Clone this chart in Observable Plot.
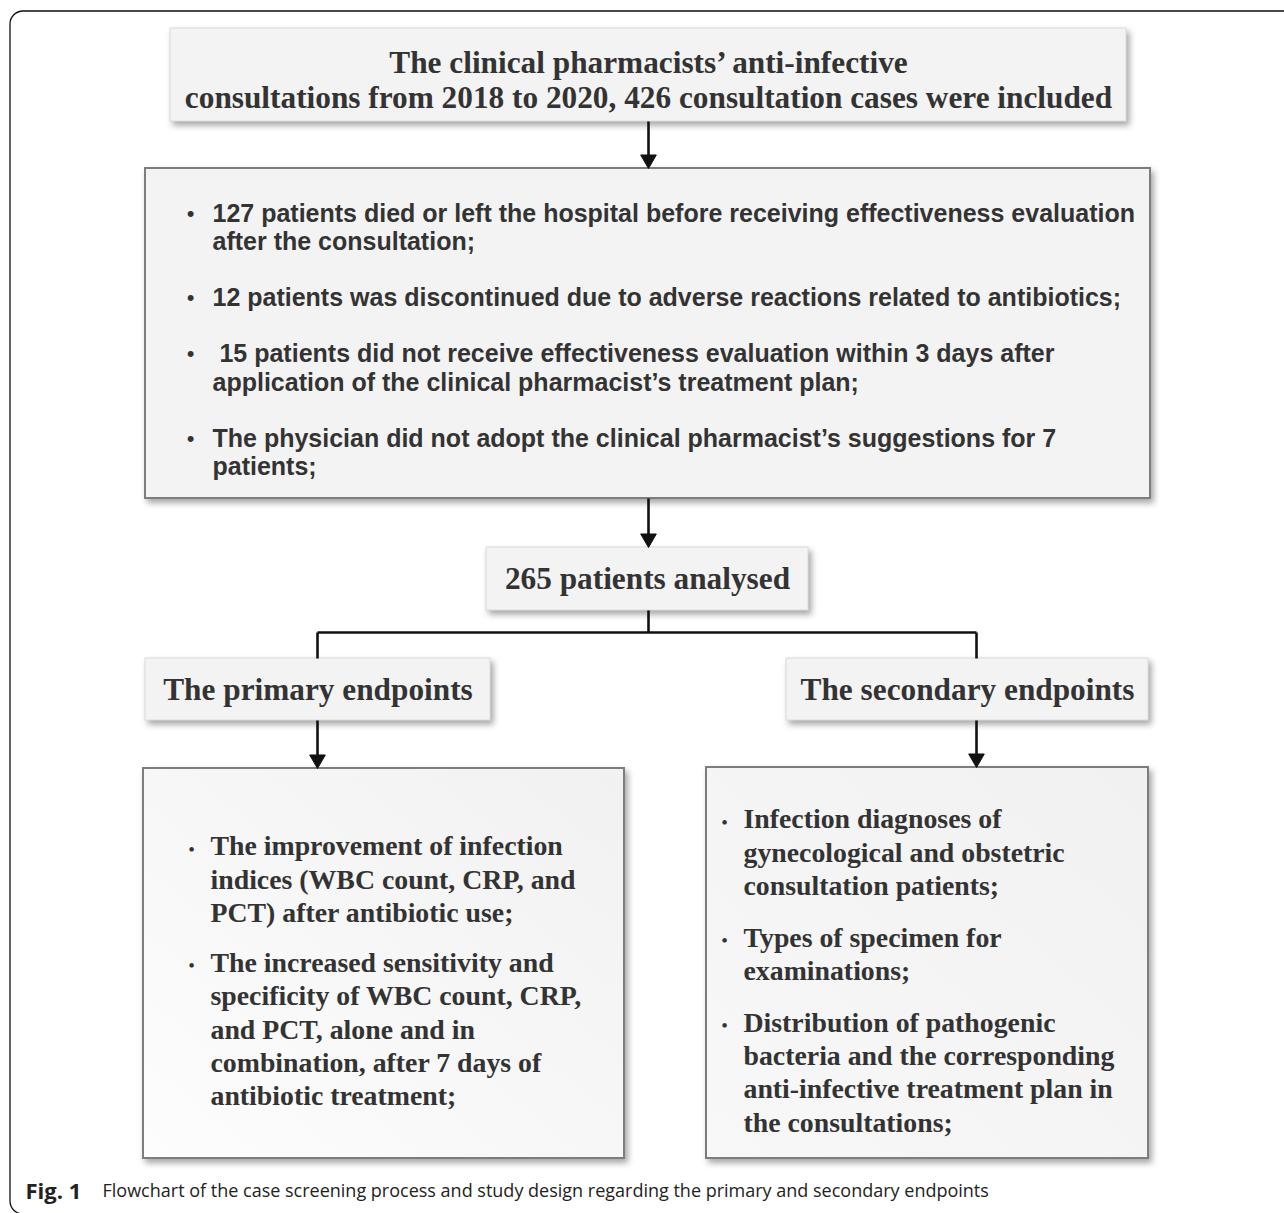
<!DOCTYPE html>
<html>
<head>
<meta charset="utf-8">
<script src="https://cdn.jsdelivr.net/npm/d3@7"></script>
<script src="https://cdn.jsdelivr.net/npm/@observablehq/plot@0.6"></script>
<style>
  html, body { margin: 0; padding: 0; background: #fff; }
  #chart svg { display: block; }
  #chart text { white-space: pre; }
</style>
</head>
<body>
<div id="chart"></div>
<script>
// ---------- content (data) ----------
const topTitle = [
  "The clinical pharmacists\u2019 anti-infective",
  "consultations from 2018 to 2020, 426 consultation cases were included"
];
const exclusions = [
  ["127 patients died or left the hospital before receiving effectiveness evaluation", "after the consultation;"],
  ["12 patients was discontinued due to adverse reactions related to antibiotics;"],
  [" 15 patients did not receive effectiveness evaluation within 3 days after", "application of the clinical pharmacist\u2019s treatment plan;"],
  ["The physician did not adopt the clinical pharmacist\u2019s suggestions for 7", "patients;"]
];
const analysedLabel = "265 patients analysed";
const endpointLabels = ["The primary endpoints", "The secondary endpoints"];
const primaryItems = [
  ["The improvement of infection", "indices (WBC count, CRP, and", "PCT) after antibiotic use;"],
  ["The increased sensitivity and", "specificity of WBC count, CRP,", "and PCT, alone and in", "combination, after 7 days of", "antibiotic treatment;"]
];
const secondaryItems = [
  ["Infection diagnoses of", "gynecological and obstetric", "consultation patients;"],
  ["Types of specimen for", "examinations;"],
  ["Distribution of pathogenic", "bacteria and the corresponding", "anti-infective treatment plan in", "the consultations;"]
];
const captionLabel = "Fig. 1";
const captionText = "Flowchart of the case screening process and study design regarding the primary and secondary endpoints";

// ---------- layout ----------
const W = 1284, H = 1213;
const L = {
  frame: {x1: 10, x2: 1320, y1: 11, y2: 1214},
  top: {x1: 170, x2: 1126, y1: 28, y2: 121},
  excl: {x1: 145, x2: 1150, y1: 168, y2: 498},
  analysed: {x1: 486, x2: 808, y1: 547, y2: 610},
  head1: {x1: 145, x2: 490, y1: 658, y2: 720},
  head2: {x1: 786, x2: 1148, y1: 658, y2: 720},
  prim: {x1: 143, x2: 624, y1: 768, y2: 1158},
  sec: {x1: 706, x2: 1148, y1: 767, y2: 1158},
  midX: 648, leftX: 317, rightX: 976, branchY: 632
};
const serif = "'Liberation Serif', 'Times New Roman', serif";
const sans = "'Liberation Sans', Arial, sans-serif";
const capFont = "'Open Sans', 'Noto Sans', sans-serif";
const ink = "#333";

function paragraphs(items, opts) {
  const rows = [], bullets = [];
  let y = opts.y0;
  items.forEach((lines) => {
    bullets.push({x: opts.bx, y, text: "\u2022"});
    lines.forEach((t, j) => {
      rows.push({x: opts.tx, y, text: t});
      if (j < lines.length - 1) y += opts.step;
    });
    y += opts.gap;
  });
  return {rows, bullets};
}

const exclP = paragraphs(exclusions, {y0: 213, step: 28.5, gap: 56, bx: 190, tx: 212});
const primP = paragraphs(primaryItems, {y0: 846, step: 33.3, gap: 50, bx: 191, tx: 210});
const secP = paragraphs(secondaryItems, {y0: 819, step: 33.2, gap: 52, bx: 724, tx: 743});

const darkBorder = [L.excl, L.prim, L.sec];
const lightBorder = [L.top, L.analysed, L.head1, L.head2];

const cx = b => (b.x1 + b.x2) / 2, cy = b => (b.y1 + b.y2) / 2;

const centered = [
  {x: cx(L.top), y: 62, text: topTitle[0]},
  {x: cx(L.top), y: 97, text: topTitle[1]},
  {x: cx(L.analysed), y: cy(L.analysed), text: analysedLabel},
  {x: cx(L.head1), y: cy(L.head1), text: endpointLabels[0]},
  {x: cx(L.head2), y: cy(L.head2), text: endpointLabels[1]}
];

// connectors
const segs = [
  {x1: L.midX, y1: L.top.y2, x2: L.midX, y2: L.excl.y1 - 6},
  {x1: L.midX, y1: L.excl.y2, x2: L.midX, y2: L.analysed.y1 - 6},
  {x1: L.midX, y1: L.analysed.y2, x2: L.midX, y2: L.branchY},
  {x1: L.leftX, y1: L.branchY, x2: L.rightX, y2: L.branchY},
  {x1: L.leftX, y1: L.branchY, x2: L.leftX, y2: L.head1.y1},
  {x1: L.rightX, y1: L.branchY, x2: L.rightX, y2: L.head2.y1},
  {x1: L.leftX, y1: L.head1.y2, x2: L.leftX, y2: L.prim.y1 - 6},
  {x1: L.rightX, y1: L.head2.y2, x2: L.rightX, y2: L.sec.y1 - 6}
];
const headR = 5.8;
const headOff = (2 / 3) * Math.sqrt(Math.PI * headR * headR * Math.sqrt(3)); // centroid-to-tip
const heads = [
  {x: L.midX, y: L.excl.y1},
  {x: L.midX, y: L.analysed.y1},
  {x: L.leftX, y: L.prim.y1},
  {x: L.rightX, y: L.sec.y1}
].map(d => ({x: d.x, y: d.y - headOff}));

const chart = Plot.plot({
  width: W, height: H, margin: 0,
  x: {domain: [0, W], range: [0, W], axis: null},
  y: {domain: [0, H], range: [0, H], axis: null},
  style: {background: "#fff"},
  marks: [
    // outer frame
    Plot.rect([L.frame], {x1: "x1", x2: "x2", y1: "y1", y2: "y2", rx: 13, fill: "none", stroke: "#111", strokeWidth: 1.3}),
    // boxes
    Plot.rect(lightBorder, {x1: "x1", x2: "x2", y1: "y1", y2: "y2", fill: "#f3f3f3", stroke: "#dcdcdc", strokeWidth: 1}),
    Plot.rect(darkBorder, {x1: "x1", x2: "x2", y1: "y1", y2: "y2", fill: "#f3f3f3", stroke: "#7d7d7d", strokeWidth: 2}),
    // connectors on top of the boxes
    Plot.link(segs, {x1: "x1", y1: "y1", x2: "x2", y2: "y2", stroke: "#111", strokeWidth: 2.6}),
    Plot.dot(heads, {x: "x", y: "y", symbol: "triangle", rotate: 180, r: headR, fill: "#111", stroke: "#111", strokeWidth: 1}),
    // centered serif titles
    Plot.text(centered, {x: "x", y: "y", text: "text", fontSize: 31.3, fontFamily: serif, fontWeight: "bold", fill: ink, textAnchor: "middle", lineAnchor: "middle"}),
    // exclusion bullets (sans)
    Plot.text(exclP.bullets, {x: "x", y: "y", text: "text", fontSize: 22, fontFamily: sans, fill: ink, textAnchor: "middle", lineAnchor: "middle"}),
    Plot.text(exclP.rows, {x: "x", y: "y", text: "text", fontSize: 25, fontFamily: sans, fontWeight: "bold", fill: ink, textAnchor: "start", lineAnchor: "middle"}),
    // primary / secondary bullets (serif)
    Plot.text([...primP.bullets, ...secP.bullets], {x: "x", y: "y", text: "text", fontSize: 19, fontFamily: serif, fill: ink, textAnchor: "middle", lineAnchor: "middle", dy: 3}),
    Plot.text([...primP.rows, ...secP.rows], {x: "x", y: "y", text: "text", fontSize: 27.8, fontFamily: serif, fontWeight: "bold", fill: ink, textAnchor: "start", lineAnchor: "middle"}),
    // caption
    Plot.text([{x: 25, y: 1191, text: captionLabel}], {x: "x", y: "y", text: "text", fontSize: 22, fontFamily: capFont, fontWeight: "bold", fill: "#222", textAnchor: "start", lineAnchor: "middle"}),
    Plot.text([{x: 102, y: 1191, text: captionText}], {x: "x", y: "y", text: "text", fontSize: 18, fontFamily: capFont, fill: "#222", textAnchor: "start", lineAnchor: "middle"})
  ]
});

// subtle gradients on the two lower boxes
const svg = d3.select(chart);
const defs = svg.insert("defs", ":first-child");
[["gPrim", "#f1f1f1", "#fdfdfd"], ["gSec", "#f1f1f1", "#f8f8f8"]].forEach(([id, a, b]) => {
  const g = defs.append("linearGradient").attr("id", id)
    .attr("x1", "1").attr("y1", "0").attr("x2", "0").attr("y2", "1");
  g.append("stop").attr("offset", "0").attr("stop-color", a);
  g.append("stop").attr("offset", "1").attr("stop-color", b);
});

// soft drop shadow on the boxes
svg.selectAll("g[aria-label='rect']")
  .filter(function() { return this.getAttribute("fill") === "#f3f3f3"; })
  .style("filter", "drop-shadow(3px 4px 3px rgba(0,0,0,0.35))")
  .each(function() {
    const rects = d3.select(this).selectAll("rect").nodes();
    if (rects.length === darkBorder.length) {
      rects[1].setAttribute("fill", "url(#gPrim)");
      rects[2].setAttribute("fill", "url(#gSec)");
    }
  });

document.getElementById("chart").appendChild(chart);
</script>
</body>
</html>
